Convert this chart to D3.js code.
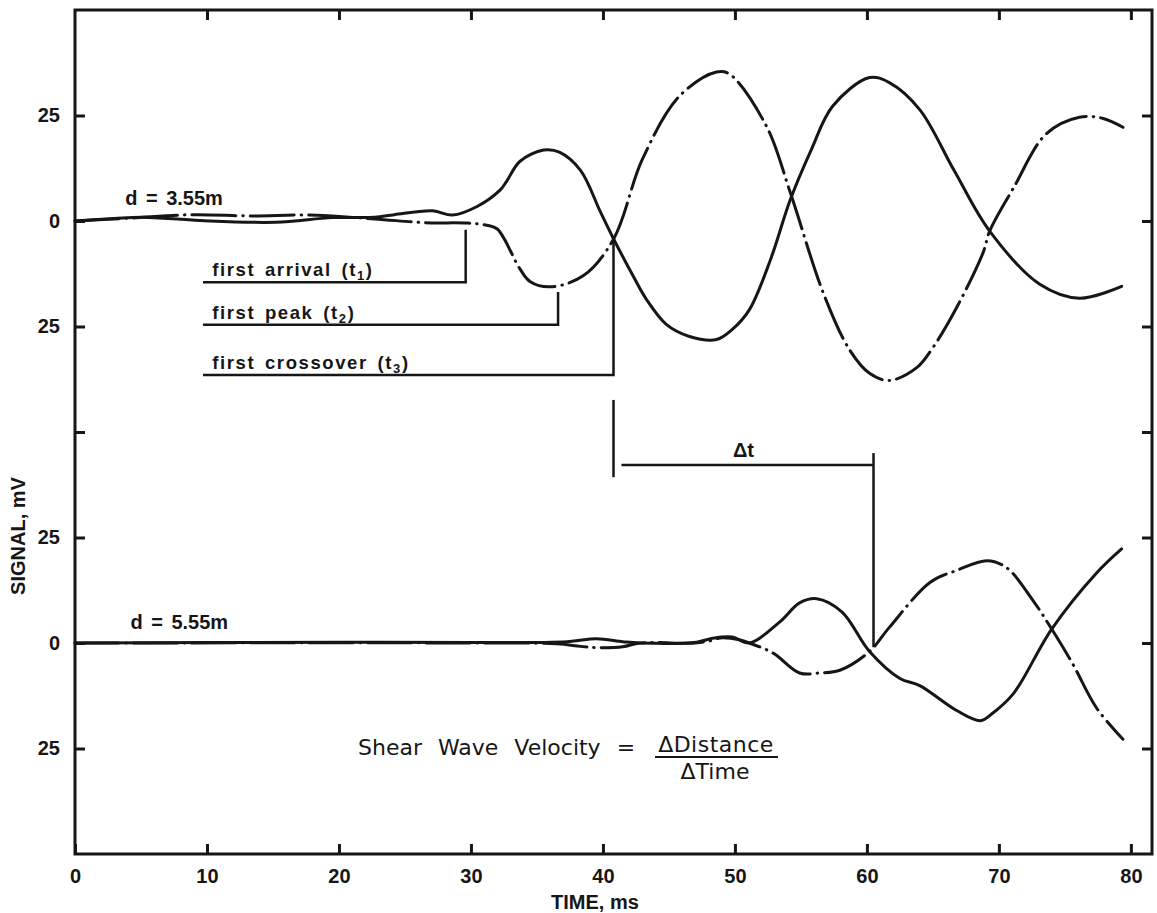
<!DOCTYPE html>
<html>
<head>
<meta charset="utf-8">
<script src="https://cdn.jsdelivr.net/npm/d3@7"></script>
<style>
  body { margin: 0; background: #fff; }
  svg { display: block; }
  .axis text { font-family: 'Liberation Sans Narrow', 'Liberation Sans', sans-serif; font-weight: bold; font-size: 20px; fill: #161616; }
  .axis line { stroke: #161616; stroke-width: 3; }
  .axis path { display: none; }
  .trace { fill: none; stroke: #161616; stroke-width: 3; stroke-linejoin: round; stroke-linecap: round; }
  .marker { fill: none; stroke: #161616; stroke-width: 2.5; }
  .lbl { font-family: 'Liberation Sans', sans-serif; font-weight: bold; font-size: 18.5px; fill: #161616; letter-spacing: 1.6px; word-spacing: 3px; }
  .bold { font-family: 'Liberation Sans Narrow', 'Liberation Sans', sans-serif; font-weight: bold; font-size: 20px; fill: #161616; }
  .formula { font-family: 'DejaVu Sans', sans-serif; font-size: 22px; fill: #161616; }
</style>
</head>
<body>
<svg id="chart" width="1157" height="913"></svg>
<script>
// time axis (ms)
const timeTicks = [0, 10, 20, 30, 40, 50, 60, 70, 80]
// signal axis: two stacked traces, 25 mV per division
const signalTicks = [25, 50, 75, 100, 125, 150, 175]
const signalTickLabels = ['25', '0', '25', '', '25', '0', '25']

// d = 3.55m  (upper trace, baseline at 150)
const upperSolidT = [0, 3, 5.1, 9.5, 15.2, 19.5, 22.7, 24.2, 27.1, 28.6, 30.5, 32.2, 32.7, 33.7, 35.5, 36.7, 38.3, 39.8, 40.8, 42.3, 43.3, 44.8, 46.5, 48.6, 49.8, 51.1, 52.7, 54.2, 55.8, 57.4, 60.2, 61.7, 64.0, 66.6, 69.3, 73.1, 76.1, 79.3]
const upperSolidV = [0, 0.6, 0.9, 0.1, -0.3, 0.8, 0.9, 1.5, 2.4, 1.4, 3.5, 7.3, 9.4, 14.1, 16.8, 16.3, 12.0, 2.2, -4.2, -13.1, -18.6, -24.5, -27.3, -28.1, -25.7, -21, -9.1, 5.1, 17, 27.2, 34.0, 32.8, 26.4, 12, -2.4, -15.0, -18.3, -15.5]
const upperDashT = [0, 4.2, 8.9, 13.4, 17.7, 22.7, 26.5, 29.7, 31.2, 32.0, 33.7, 34.5, 36.0, 38.5, 40.8, 43.0, 45.8, 48.6, 49.6, 52.4, 54.2, 56.7, 58.7, 60.2, 61.7, 63.8, 65.0, 66.8, 68.8, 69.3, 71.1, 73.6, 76.1, 77.9, 79.4]
const upperDashV = [0, 0.7, 1.5, 1.2, 1.4, 0.5, -0.4, -0.5, -1.0, -1.9, -11.3, -14.4, -15.6, -13.0, -4.3, 14.7, 29.6, 35.3, 34.8, 22.4, 6.7, -17.1, -30.6, -36.1, -37.8, -34.7, -30.0, -20.5, -7.5, -2.4, 7.8, 20.7, 24.6, 24.3, 22.2]

// d = 5.55m  (lower trace, baseline at 50)
const lowerSolidT = [0, 10, 20, 30, 37.3, 39.5, 41.5, 42.8, 47.1, 48.3, 49.8, 51.1, 53.4, 54.9, 56.2, 58.1, 60.2, 62.5, 64.0, 66.8, 68.6, 69.5, 71.1, 74.0, 77.4, 79.3]
const lowerSolidV = [0, 0.1, 0.2, 0.1, 0.3, 1.0, 0.3, 0, 0.2, 1.1, 1.4, 0, 5.0, 9.5, 10.5, 7.4, -2, -8.4, -10.1, -16.0, -18.4, -16.7, -12.0, 3.3, 16.6, 22.3]
const lowerDashT = [0, 30, 36.5, 38.3, 39.5, 41.5, 42.8, 47.0, 48.1, 48.9, 50.4, 51.1, 52.9, 54.9, 56.4, 58.0, 60.2, 61.7, 64.8, 66.8, 69.1, 70.6, 72.6, 74.0, 75.6, 77.4, 79.4]
const lowerDashV = [0, 0, -0.2, -0.8, -1.1, -0.9, 0, 0, 0.5, 1.2, 0.7, 0, -2.4, -7.1, -7.1, -6.4, -2, 3.7, 14.4, 17.2, 19.5, 17.8, 10.0, 3.3, -5.0, -15.4, -22.8]

// picks on the upper trace (ms)
const pickNames = ['first arrival', 'first peak', 'first crossover']
const pickSubs = ['1', '2', '3']
const pickTimes = [29.6, 36.6, 40.8]
// lower trace crossover used for delta t
const crossLower = 60.5

const svg = d3.select('#chart')
const x = d3.scaleLinear().domain([0, 81.6]).range([75, 1152])
const y = d3.scaleLinear().domain([0, 200]).range([854, 10])

const upperBase = 150
const lowerBase = 50

// axes
svg.append('g').attr('class', 'axis')
  .attr('transform', `translate(0,${y(0)})`)
  .call(d3.axisBottom(x).tickValues(timeTicks).tickSizeInner(-10).tickSizeOuter(0).tickPadding(15).tickFormat(d3.format('d')))
svg.append('g').attr('class', 'axis')
  .attr('transform', `translate(0,${y(200)})`)
  .call(d3.axisTop(x).tickValues(timeTicks.slice(1)).tickSizeInner(-10).tickSizeOuter(0).tickFormat(''))
svg.append('g').attr('class', 'axis')
  .attr('transform', `translate(${x(0)},0)`)
  .call(d3.axisLeft(y).tickValues(signalTicks).tickSizeInner(-10).tickSizeOuter(0).tickPadding(15).tickFormat((d, i) => signalTickLabels[i]))
svg.append('g').attr('class', 'axis')
  .attr('transform', `translate(${x(81.6)},0)`)
  .call(d3.axisRight(y).tickValues(signalTicks).tickSizeInner(-10).tickSizeOuter(0).tickFormat(''))

svg.append('rect')
  .attr('x', x(0)).attr('y', y(200))
  .attr('width', x(81.6) - x(0)).attr('height', y(0) - y(200))
  .attr('fill', 'none').attr('stroke', '#161616').attr('stroke-width', 3)

svg.append('text').attr('class', 'bold')
  .attr('x', 595).attr('y', 909).attr('text-anchor', 'middle')
  .text('TIME, ms')
svg.append('text').attr('class', 'bold')
  .attr('transform', 'translate(25,536) rotate(-90)').attr('text-anchor', 'middle')
  .text('SIGNAL, mV')

// traces
const zip = (ts, vs) => ts.map((t, i) => [t, vs[i]])
const line = base => d3.line()
  .x(d => x(d[0]))
  .y(d => y(d[1] + base))
  .curve(d3.curveCatmullRom.alpha(0.5))

const traces = [
  { pts: zip(upperSolidT, upperSolidV), base: upperBase, dash: null },
  { pts: zip(upperDashT, upperDashV), base: upperBase, dash: '44 7 0.5 7' },
  { pts: zip(lowerSolidT, lowerSolidV), base: lowerBase, dash: null },
  { pts: zip(lowerDashT, lowerDashV), base: lowerBase, dash: '44 7 0.5 7' }
]
svg.selectAll('path.trace')
  .data(traces)
  .enter()
  .append('path')
  .attr('class', 'trace')
  .attr('d', d => line(d.base)(d.pts))
  .attr('stroke-dasharray', d => d.dash)

svg.append('text').attr('class', 'bold')
  .attr('x', x(3.8)).attr('y', y(upperBase + 3.8))
  .attr('word-spacing', 3)
  .text('d = 3.55m')
svg.append('text').attr('class', 'bold')
  .attr('x', x(4.2)).attr('y', y(lowerBase + 3.3))
  .attr('word-spacing', 3)
  .text('d = 5.55m')

// pick markers: label line + drop to the trace
const pickLevels = [-14.5, -24.6, -36.5]
const pickTops = [-2.1, -16.8, -4.5]
pickTimes.forEach((t, i) => {
  const ly = y(upperBase + pickLevels[i])
  svg.append('path').attr('class', 'marker')
    .attr('d', `M${x(9.7)},${ly}H${x(t)}V${y(upperBase + pickTops[i])}`)
  const txt = svg.append('text').attr('class', 'lbl')
    .attr('x', x(10.4)).attr('y', ly - 6)
  txt.append('tspan').text(pickNames[i] + ' (t')
  txt.append('tspan').attr('font-size', 13).attr('dy', 4).text(pickSubs[i])
  txt.append('tspan').attr('dy', -4).text(')')
})

// delta t
svg.append('path').attr('class', 'marker')
  .attr('d', `M${x(pickTimes[2])},${y(107.6)}V${y(89.3)}`)
svg.append('path').attr('class', 'marker')
  .attr('d', `M${x(41.4)},${y(92.2)}H${x(crossLower)}`)
svg.append('path').attr('class', 'marker')
  .attr('d', `M${x(crossLower)},${y(95)}V${y(lowerBase - 1)}`)
svg.append('text').attr('class', 'bold')
  .attr('x', x((pickTimes[2] + crossLower) / 2)).attr('y', y(92.2) - 8)
  .attr('text-anchor', 'middle')
  .text('Δt')

// formula
svg.append('text').attr('class', 'formula')
  .attr('x', 358).attr('y', 755)
  .attr('word-spacing', 9)
  .text('Shear Wave Velocity =')
svg.append('text').attr('class', 'formula')
  .attr('x', 716).attr('y', 752).attr('text-anchor', 'middle')
  .attr('letter-spacing', 0.5)
  .text('ΔDistance')
svg.append('line')
  .attr('x1', 655).attr('x2', 778).attr('y1', 757).attr('y2', 757)
  .attr('stroke', '#161616').attr('stroke-width', 2)
svg.append('text').attr('class', 'formula')
  .attr('x', 715).attr('y', 779).attr('text-anchor', 'middle')
  .text('ΔTime')
</script>
</body>
</html>
